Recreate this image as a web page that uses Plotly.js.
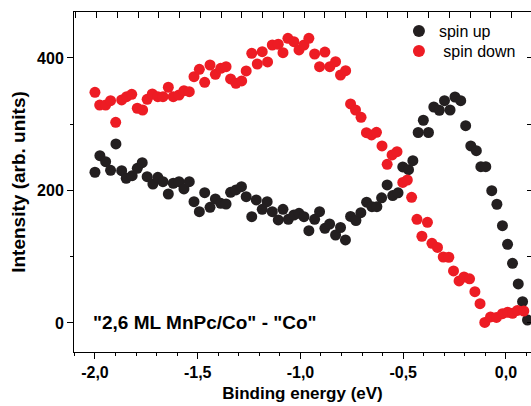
<!DOCTYPE html>
<html>
<head>
<meta charset="utf-8">
<script src="https://cdn.plot.ly/plotly-3.0.1.min.js"></script>
<style>html,body{margin:0;padding:0;background:#fff;}#chart{width:531px;height:406px;}</style>
</head>
<body>
<div id="chart"></div>
<script>
// spin up (black)
const upEnergy = [-2.000,-1.976,-1.948,-1.924,-1.898,-1.870,-1.848,-1.819,-1.794,-1.770,
  -1.746,-1.718,-1.694,-1.669,-1.643,-1.619,-1.591,-1.567,-1.541,-1.518,
  -1.492,-1.466,-1.440,-1.414,-1.388,-1.362,-1.340,-1.314,-1.287,-1.264,
  -1.237,-1.215,-1.186,-1.162,-1.137,-1.108,-1.085,-1.059,-1.032,-1.007,
  -0.983,-0.959,-0.931,-0.907,-0.881,-0.858,-0.829,-0.805,-0.781,-0.756,
  -0.730,-0.706,-0.678,-0.652,-0.628,-0.605,-0.578,-0.551,-0.525,-0.502,
  -0.474,-0.453,-0.427,-0.402,-0.377,-0.351,-0.324,-0.299,-0.272,-0.248,
  -0.220,-0.196,-0.171,-0.144,-0.122,-0.098,-0.069,-0.044,-0.017,0.008,
  0.032,0.060,0.081,0.105];
const upIntensity = [227.5,252.5,243.5,230.5,270.2,229.9,218.4,222.3,233.5,242.0,
  220.8,209.8,219.9,213.3,194.7,210.9,213.3,202.3,213.3,183.1,
  168.0,196.7,174.6,187.2,180.7,179.6,197.3,200.8,205.7,190.6,
  160.4,185.7,171.6,183.1,168.0,155.5,171.6,156.5,163.0,165.6,
  160.4,139.3,156.5,168.0,142.9,149.4,132.8,144.1,125.3,160.8,
  154.7,166.5,182.3,175.5,175.5,189.0,208.3,192.4,196.5,235.5,
  231.4,245.0,287.5,306.0,287.5,326.0,321.1,335.5,321.5,341.1,
  335.5,297.8,267.2,260.1,235.9,235.9,199.7,179.2,146.9,118.8,
  90.1,58.9,32.2,4.5];

// spin down (red)
const downEnergy = [-2.000,-1.977,-1.948,-1.924,-1.899,-1.870,-1.846,-1.821,-1.794,-1.768,
  -1.746,-1.721,-1.694,-1.669,-1.643,-1.619,-1.591,-1.567,-1.541,-1.518,
  -1.492,-1.466,-1.440,-1.414,-1.388,-1.362,-1.340,-1.314,-1.286,-1.264,
  -1.237,-1.210,-1.186,-1.160,-1.137,-1.108,-1.085,-1.061,-1.032,-1.007,
  -0.983,-0.959,-0.931,-0.907,-0.881,-0.857,-0.829,-0.805,-0.780,-0.756,
  -0.732,-0.705,-0.679,-0.654,-0.630,-0.603,-0.578,-0.554,-0.530,-0.502,
  -0.480,-0.459,-0.433,-0.409,-0.382,-0.360,-0.333,-0.305,-0.278,-0.255,
  -0.228,-0.204,-0.177,-0.151,-0.126,-0.103,-0.075,-0.046,-0.017,0.008,
  0.032,0.056,0.087];
const downIntensity = [348.2,329.0,329.0,335.5,302.9,336.6,341.6,345.2,324.1,321.5,
  337.6,345.7,341.6,341.6,355.8,341.6,344.1,350.6,349.1,371.8,
  382.9,363.3,389.4,375.4,384.4,386.9,368.3,361.8,365.3,380.4,
  407.1,390.9,409.5,394.0,419.6,420.7,408.0,429.7,424.6,412.1,
  419.6,429.7,406.0,386.9,409.0,386.9,394.4,374.3,380.8,330.6,
  321.5,310.5,287.2,283.8,287.8,267.2,239.5,253.6,258.6,212.1,
  215.8,189.7,156.5,130.9,152.0,120.3,114.0,99.6,99.2,78.5,
  63.4,69.4,66.7,47.2,29.1,0.8,9.1,8.3,14.0,16.2,
  14.6,18.9,18.1];

const xTickVals = [-2.0,-1.5,-1.0,-0.5,0.0];
const xTickText = ['-2,0','-1,5','-1,0','-0,5','0,0'];
const yTickVals = [0,200,400];
const yTickText = ['0','200','400'];
const seriesNames = ['spin up','\u00A0spin down'];
const annotationText = '"2,6 ML MnPc/Co" - "Co"';

const FONT = 'Liberation Sans, Arial, sans-serif';
const BLACK = '#231F20';
const RED = '#ED1C24';

const data = [
  {x: upEnergy, y: upIntensity, type: 'scatter', mode: 'markers', name: seriesNames[0], legend: 'legend',
   marker: {color: BLACK, size: 11, line: {width: 0}}},
  {x: downEnergy, y: downIntensity, type: 'scatter', mode: 'markers', name: seriesNames[1], legend: 'legend2',
   marker: {color: RED, size: 11, line: {width: 0}}},
  {x: [], y: [], xaxis: 'x2', yaxis: 'y2', type: 'scatter', mode: 'markers', showlegend: false, hoverinfo: 'skip'}
];

const legendBase = {xanchor: 'left', yanchor: 'top', bgcolor: 'rgba(0,0,0,0)',
  font: {family: FONT, size: 16, color: '#000'}, itemsizing: 'constant'};

const layout = {
  width: 531, height: 406,
  margin: {l: 74, r: 0, t: 12, b: 54, pad: 0},
  paper_bgcolor: '#fff', plot_bgcolor: '#fff',
  font: {family: FONT, color: '#000'},
  showlegend: true,
  legend: Object.assign({x: 0.711, y: 0.994}, legendBase),
  legend2: Object.assign({x: 0.711, y: 0.935}, legendBase),
  xaxis: {range: [-2.102, 0.122], tickvals: xTickVals, ticktext: xTickText,
    ticks: 'outside', ticklen: 6, tickwidth: 1, tickcolor: '#000',
    minor: {dtick: 0.1, tick0: -2, ticks: 'outside', ticklen: 3, tickwidth: 1, tickcolor: '#000', showgrid: false},
    showline: true, linecolor: '#000', linewidth: 1, showgrid: false, zeroline: false,
    tickfont: {family: FONT, size: 16, weight: 'bold', color: '#000'},
    title: {text: 'Binding energy (eV)', font: {family: FONT, size: 17, weight: 'bold', color: '#000'}, standoff: 6}},
  xaxis2: {overlaying: 'x', side: 'top', anchor: 'y', range: [-2.1094, 0.093], tick0: -2, dtick: 0.1,
    ticks: 'inside', ticklen: 6, tickwidth: 1, tickcolor: '#000', showticklabels: false,
    showline: true, linecolor: '#000', linewidth: 1, showgrid: false, zeroline: false},
  yaxis: {range: [-43.8, 469.4], tickvals: yTickVals, ticktext: yTickText,
    ticks: 'outside', ticklen: 6, tickwidth: 1, tickcolor: '#000',
    minor: {dtick: 100, tick0: 0, ticks: 'outside', ticklen: 3, tickwidth: 1, tickcolor: '#000', showgrid: false},
    showline: true, linecolor: '#000', linewidth: 1, showgrid: false, zeroline: false,
    tickfont: {family: FONT, size: 16, weight: 'bold', color: '#000'},
    title: {text: 'Intensity (arb. units)', font: {family: FONT, size: 19, weight: 'bold', color: '#000'}, standoff: 6}},
  yaxis2: {overlaying: 'y', side: 'right', anchor: 'x', range: [-43.8, 469.4], tick0: 0, dtick: 100,
    ticks: 'inside', ticklen: 4, tickwidth: 1, tickcolor: '#000', showticklabels: false,
    showline: false, showgrid: false, zeroline: false},
  annotations: [{text: annotationText, xref: 'paper', yref: 'y', x: 0.037, y: 0,
    xanchor: 'left', yanchor: 'middle', showarrow: false,
    font: {family: FONT, size: 19, weight: 'bold', color: '#000'}}]
};

Plotly.newPlot('chart', data, layout, {displayModeBar: false, staticPlot: true});
</script>
</body>
</html>
